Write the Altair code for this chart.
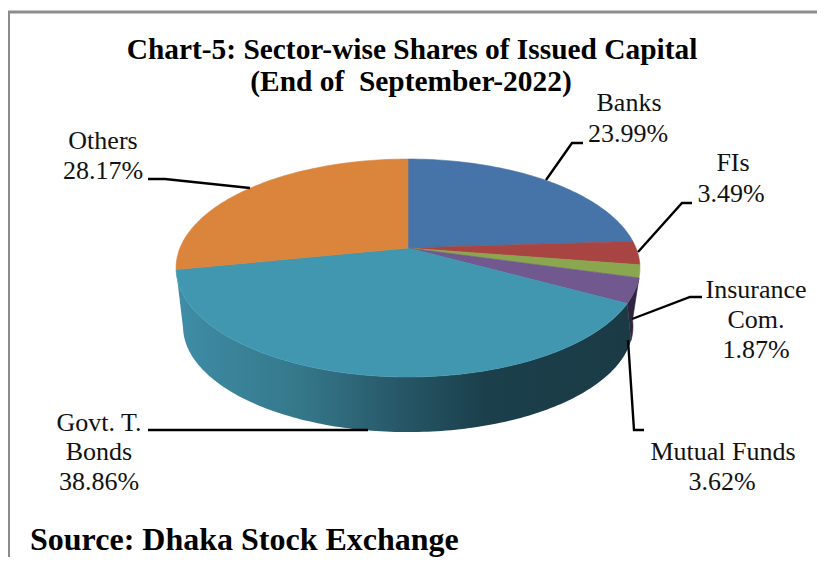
import math
import altair as alt
import pandas as pd

categories = ["Banks", "FIs", "Insurance Com.", "Mutual Funds", "Govt. T. Bonds", "Others"]
shares = [23.99, 3.49, 1.87, 3.62, 38.86, 28.17]
share_labels = ["23.99%", "3.49%", "1.87%", "3.62%", "38.86%", "28.17%"]
title_lines = ["Chart-5: Sector-wise Shares of Issued Capital", "(End of\u00a0 September-2022)"]
source_text = "Source: Dhaka Stock Exchange"

top_colors = ["#4674A8", "#A84542", "#8AA64E", "#71588F", "#4097AF", "#DA843C"]

W, H = 809, 549
X = alt.X("x:Q", scale=alt.Scale(domain=[8, 817], range=[0, W]), axis=None)
Y = alt.Y("y:Q", scale=alt.Scale(domain=[557, 8], range=[H, 0]), axis=None)

# perspective of the pie disc
CX, CY, B, A, K = 408.0, 248.0, 228.0, 105.3, 0.1835
CYB, SB = 307.0, 0.97


def top(t):
    u, v = math.sin(math.radians(t)), -math.cos(math.radians(t))
    d = 1 - K * v
    return CX + B * u / d, CY + A * v / d


def bottom(t):
    u, v = math.sin(math.radians(t)), -math.cos(math.radians(t))
    d = 1 - K * v
    return CX + SB * B * u / d, CYB + SB * A * v / d


def arc(fn, a, b):
    n = max(2, int(abs(b - a)) + 1)
    return [fn(a + (b - a) * i / n) for i in range(n + 1)]


def poly(points, fill, stroke=True):
    df = pd.DataFrame(points, columns=["x", "y"])
    df["o"] = range(len(df))
    kw = dict(stroke=fill, strokeWidth=0.6) if stroke else dict(strokeWidth=0)
    return alt.Chart(df).mark_line(fill=fill, interpolate="linear-closed", clip=False, **kw).encode(
        x=X, y=Y, order="o:Q"
    )


edges = [0.0]
for s in shares:
    edges.append(edges[-1] + s * 3.6)

layers = []

# side walls
wall_gradient = alt.Gradient(
    gradient="linear", x1=0, x2=1, y1=0, y2=0,
    stops=[
        alt.GradientStop(offset=0, color="#3F8DA7"),
        alt.GradientStop(offset=0.28, color="#347789"),
        alt.GradientStop(offset=0.5, color="#265666"),
        alt.GradientStop(offset=0.68, color="#1B3F4B"),
        alt.GradientStop(offset=1, color="#1A3B46"),
    ],
)
layers.append(poly(arc(top, edges[3], edges[4]) + arc(bottom, 108, 97), "#30253F"))
layers.append(poly(arc(top, edges[4], edges[5]) + arc(bottom, edges[5], 108), wall_gradient, stroke=False))

# top faces
for i, c in enumerate(top_colors):
    layers.append(poly([(CX, CY)] + arc(top, edges[i], edges[i + 1]), c))

# frame
frame = pd.DataFrame({"x": [8.5, 8.5, 817], "y": [557, 12, 12], "o": [0, 1, 2]})
layers.append(alt.Chart(frame).mark_line(color="#8C8C8C", strokeWidth=3).encode(x=X, y=Y, order="o:Q"))

# leader lines
leaders = [
    [(546, 180), (572, 143), (583, 143)],
    [(638, 252), (682, 203), (692, 203)],
    [(632, 319), (690, 297), (702, 297)],
    [(628, 340), (634, 430), (644, 430)],
    [(368, 430), (148, 430)],
    [(250, 188), (165, 179), (148, 179)],
]
for pts in leaders:
    df = pd.DataFrame(pts, columns=["x", "y"])
    df["o"] = range(len(df))
    layers.append(alt.Chart(df).mark_line(color="black", strokeWidth=2.4).encode(x=X, y=Y, order="o:Q"))

# slice labels
label_rows = [
    (categories[0], 629, 111), (share_labels[0], 628, 142),
    (categories[1], 733, 171), (share_labels[1], 731, 202),
    ("Insurance", 756, 298), ("Com.", 756, 328), (share_labels[2], 756, 358),
    (categories[3], 723, 460), (share_labels[3], 722, 490),
    ("Govt. T.", 99, 431), ("Bonds", 99, 460), (share_labels[4], 99, 490),
    (categories[5], 103, 149), (share_labels[5], 103, 179),
]
layers.append(
    alt.Chart(pd.DataFrame(label_rows, columns=["t", "x", "y"]))
    .mark_text(font="Liberation Serif", fontSize=26, color="#111111", align="center", baseline="alphabetic")
    .encode(x=X, y=Y, text="t:N")
)

# title
title_df = pd.DataFrame({"t": title_lines, "x": [412, 411], "y": [59, 91]})
layers.append(
    alt.Chart(title_df)
    .mark_text(font="Liberation Serif", fontSize=29.4, fontWeight="bold", color="black", align="center", baseline="alphabetic")
    .encode(x=X, y=Y, text="t:N")
)

# source: raised just enough that the descender stays on the page
src_df = pd.DataFrame({"t": [source_text], "x": [30], "y": [550]})
layers.append(
    alt.Chart(src_df)
    .mark_text(font="Liberation Serif", fontSize=32, fontWeight="bold", color="black", align="left", baseline="alphabetic")
    .encode(x=X, y=Y, text="t:N")
)

chart = (
    alt.layer(*layers)
    .properties(width=W, height=H, padding=0, autosize=alt.AutoSizeParams(type="none"), background="white")
    .configure_view(stroke=None)
)
chart.save("out.html", embed_options={"renderer": "svg", "actions": False})
